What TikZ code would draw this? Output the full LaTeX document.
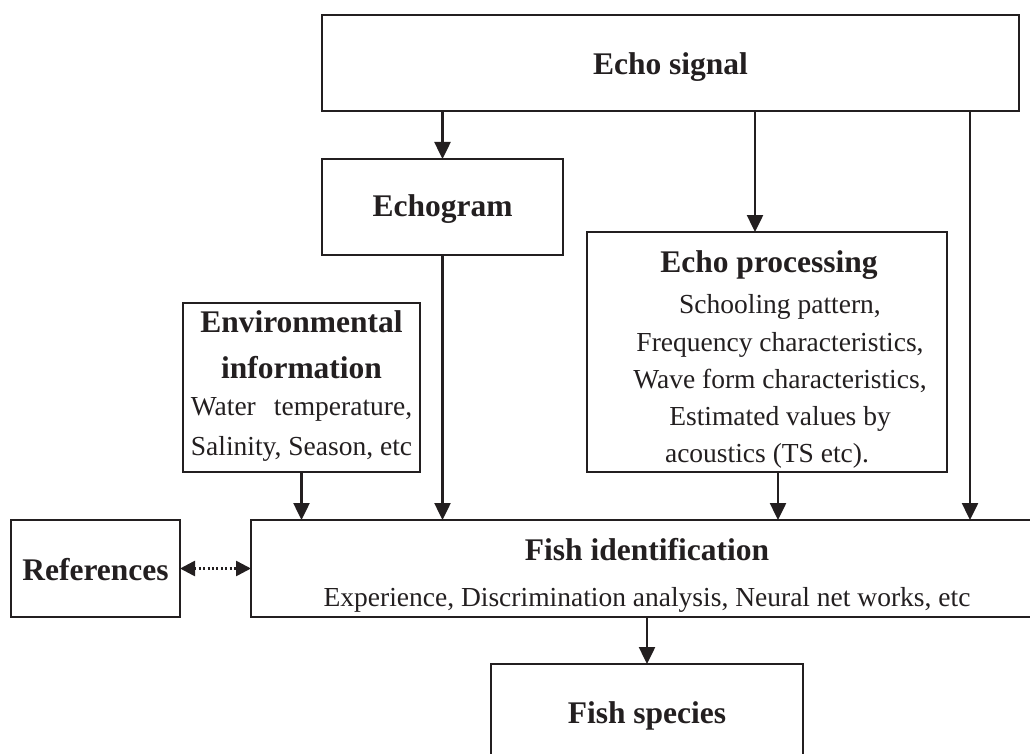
\documentclass[tikz,border=0pt]{standalone}
\usepackage{fontspec}
\setmainfont{Liberation Serif}
\usetikzlibrary{arrows.meta}
\definecolor{ink}{HTML}{231F20}
\tikzset{
  box/.style={draw=ink, line width=2pt, inner sep=0pt, outer sep=0pt},
  hd/.style={text=ink, font=\fontsize{31.5}{36}\selectfont\bfseries, inner sep=0pt, anchor=base},
  bd/.style={text=ink, font=\fontsize{27.5}{33}\selectfont, inner sep=0pt, anchor=base},
  arr/.style={draw=ink, line width=2.5pt, -{Triangle[length=17pt,width=16pt]}},
  dotarr/.style={draw=ink, line width=2.6pt, dash pattern=on 2pt off 2.4pt, {Triangle[length=15pt,width=15pt]}-{Triangle[length=15pt,width=15pt]}},
}
\begin{document}
\begin{tikzpicture}[x=1pt,y=-1pt]
\fill[white] (0,0) rectangle (1030,754);
\clip (0,0) rectangle (1030,754);
% boxes
\node[box, minimum width=697pt, minimum height=96pt] (echo) at (670.5,63) {};
\node[box, minimum width=241pt, minimum height=96pt] (echogram) at (442.5,207) {};
\node[box, minimum width=360pt, minimum height=240pt] (proc) at (767,352) {};
\node[box, minimum width=237pt, minimum height=169pt] (env) at (301.5,387.5) {};
\node[box, minimum width=169pt, minimum height=97pt] (refs) at (95.5,568.5) {};
\node[box, minimum width=792pt, minimum height=97pt] (fishid) at (647,568.5) {};
\node[box, minimum width=312pt, minimum height=100pt] (species) at (647,714) {};
% texts
\node[hd] (echot) at (670.5,75) {Echo signal};
\node[hd] (echogramt) at (442.5,216) {Echogram};
\node[hd] (proct) at (769,272) {Echo processing};
\node[bd] (proc1) at (780,313) {Schooling pattern,};
\node[bd] (proc2) at (780,351) {Frequency characteristics,};
\node[bd] (proc3) at (780,388) {Wave form characteristics,};
\node[bd] (proc4) at (780,425) {Estimated values by};
\node[bd] (proc5) at (767,462) {acoustics (TS etc).};
\node[hd] (envt1) at (301.5,332) {Environmental};
\node[hd] (envt2) at (301.5,378) {information};
\node[bd] (env1) at (301.5,415) {\setbox0\hbox{Salinity, Season, etc}\hbox to \wd0{Water\hfill temperature,}};
\node[bd] (env2) at (301.5,455) {Salinity, Season, etc};
\node[hd] (refst) at (95.5,580) {References};
\node[hd] (fishidt) at (647,560) {Fish identification};
\node[bd] (fishidb) at (647,606) {Experience, Discrimination analysis, Neural net works, etc};
\node[hd] (speciest) at (647,723) {Fish species};
% connectors
\coordinate (pin) at ([xshift=-12pt]proc.north);
\coordinate (pout) at ([xshift=11pt]proc.south);
\coordinate (rx) at (970,0);
\draw[arr] (echo.south -| echogram.north) -- (echogram.north);
\draw[arr] (echo.south -| pin) -- (pin);
\draw[arr] (echo.south -| rx) -- (fishid.north -| rx);
\draw[arr] (echogram.south) -- (fishid.north -| echogram.south);
\draw[arr] (env.south) -- (fishid.north -| env.south);
\draw[arr] (pout) -- (fishid.north -| pout);
\draw[arr] (fishid.south -| species.north) -- (species.north);
\draw[dotarr] (refs.east) -- (fishid.west);
\end{tikzpicture}
\end{document}
